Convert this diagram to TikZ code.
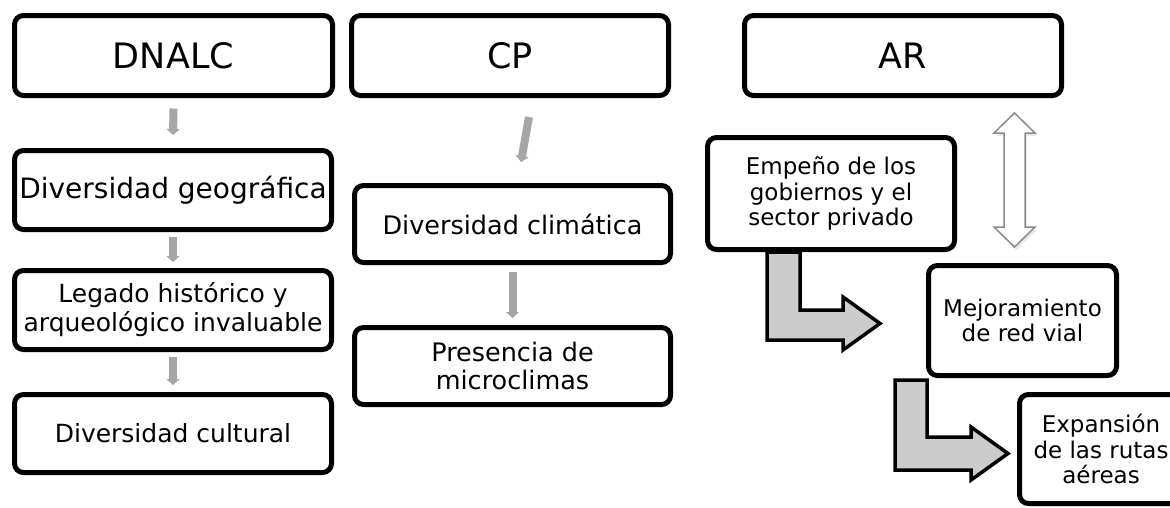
\documentclass[tikz,border=0pt]{standalone}
\usepackage{fontspec}
\setmainfont{DejaVu Sans}
\usetikzlibrary{arrows.meta,shadows}
\definecolor{arrgray}{HTML}{A6A6A6}
\definecolor{bentfill}{HTML}{CCCCCC}
\definecolor{dblline}{HTML}{8C8C8C}
\begin{document}
\begin{tikzpicture}[x=1pt,y=-1pt,
  box/.style={draw=black, line width=5pt, rounded corners=9pt, fill=white, align=center, inner sep=0pt},
  grayarr/.style={draw=arrgray, line width=8pt, -{Triangle[width=13pt,length=6pt]}},
  bent/.style={draw=black, line width=3.5pt, fill=bentfill, miter limit=10},
  dbl/.style={draw=dblline, line width=1.5pt, fill=white, drop shadow={opacity=0.18, shadow xshift=2pt, shadow yshift=-3pt}}
]
\path[use as bounding box] (0,0) rectangle (1170,507);
\clip (0,0) rectangle (1170,507);
\fill[white] (0,0) rectangle (1170,507);

% bent arrows (behind boxes)
\path[bent] (767,252) -- (767,340) -- (843,340) -- (843,350) -- (880,323.5) -- (843,297) -- (843,310) -- (800,310) -- (800,252) -- cycle;
\path[bent] (895,380) -- (895,470) -- (971,470) -- (971,480) -- (1008,453.5) -- (971,427) -- (971,437) -- (927,437) -- (927,380) -- cycle;

% double arrow
\path[dbl] (1014.5,113) -- (1035,133) -- (1025,133) -- (1025,227) -- (1035,227) -- (1014.5,247) -- (994,227) -- (1004,227) -- (1004,133) -- (994,133) -- cycle;

% column 1
\node[box, minimum width=318pt, minimum height=80pt, font=\fontsize{35}{40}\selectfont] (dnalc) at (173.5,55.5) {DNALC};
\node[box, minimum width=317pt, minimum height=79pt, font=\fontsize{28}{34}\selectfont] (geo) at (173,190) {Diversidad geográfica};
\node[box, minimum width=317pt, minimum height=79pt, font=\fontsize{25}{29}\selectfont] (leg) at (173,310) {Legado histórico y\\arqueológico invaluable};
\node[box, minimum width=317pt, minimum height=78pt, font=\fontsize{25}{30}\selectfont] (cult) at (173,433.5) {Diversidad cultural};

% column 2
\node[box, minimum width=317pt, minimum height=80pt, font=\fontsize{35}{40}\selectfont] (cp) at (510,55.5) {CP};
\node[box, minimum width=316pt, minimum height=77pt, font=\fontsize{25.5}{28}\selectfont] (clim) at (512.5,224) {Diversidad climática};
\node[box, minimum width=316pt, minimum height=77pt, font=\fontsize{25.5}{28}\selectfont] (pres) at (512.5,366) {Presencia de\\microclimas};

% column 3
\node[box, minimum width=317pt, minimum height=80pt, font=\fontsize{35}{40}\selectfont] (ar) at (903,55.5) {AR};
\node[box, minimum width=247pt, minimum height=112pt, font=\fontsize{23}{25.5}\selectfont] (emp) at (831,193.5) {Empeño de los\\gobiernos y el\\sector privado};
\node[box, minimum width=188pt, minimum height=110pt, font=\fontsize{23}{25.5}\selectfont] (mej) at (1022.5,320.5) {Mejoramiento\\de red vial};
\node[box, minimum width=163pt, minimum height=109pt, font=\fontsize{23}{25.5}\selectfont] (exp) at (1101,449) {Expansión\\de las rutas\\aéreas};

% gray arrows
\draw[grayarr, shorten <=10.5pt, shorten >=13pt] (dnalc.south) -- (geo.north);
\draw[grayarr, shorten <=5pt, shorten >=6pt] (geo.south) -- (leg.north);
\draw[grayarr, shorten <=5pt, shorten >=7pt] (leg.south) -- (cult.north);
\coordinate (cps) at (529,117);
\coordinate (cpe) at (521,162);
\draw[grayarr] (cps) -- (cpe);
\draw[grayarr, shorten <=7pt, shorten >=7pt] (clim.south) -- (pres.north);
\end{tikzpicture}
\end{document}
